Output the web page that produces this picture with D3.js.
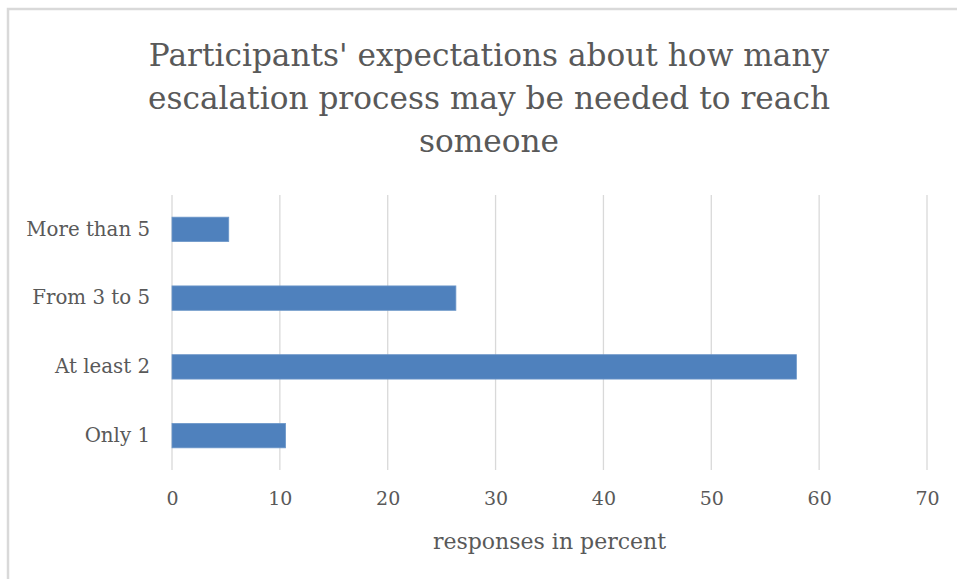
<!DOCTYPE html>
<html>
<head>
<meta charset="utf-8">
<script src="https://cdn.jsdelivr.net/npm/d3@7"></script>
<style>
  html, body { margin: 0; padding: 0; background: #ffffff; }
  svg { display: block; }
  text { font-family: "DejaVu Serif", "Liberation Serif", serif; fill: #595959; }
</style>
</head>
<body>
<svg id="chart" width="957" height="579"></svg>
<script>
// Share of participants expecting a given number of escalation steps (n = 19)
const categories = ["Only 1", "At least 2", "From 3 to 5", "More than 5"];
const percents = [10.53, 57.89, 26.32, 5.26];
const xTicks = [0, 10, 20, 30, 40, 50, 60, 70];
const titleLines = [
  "Participants' expectations about how many",
  "escalation process may be needed to reach",
  "someone"
];
const xAxisTitle = "responses in percent";

const svg = d3.select("#chart");
const W = 957, H = 579;

// chart frame (right and bottom edges fall outside the view)
svg.append("rect")
  .attr("x", 8).attr("y", 9)
  .attr("width", W + 20).attr("height", H + 20)
  .attr("fill", "#ffffff")
  .attr("stroke", "#d9d9d9")
  .attr("stroke-width", 2.5);

const plot = { left: 172, right: 927, top: 195, bottom: 470 };

const x = d3.scaleLinear().domain([0, 70]).range([plot.left, plot.right]);
const y = d3.scaleBand()
  .domain(categories.slice().reverse())
  .range([plot.top, plot.bottom])
  .paddingInner(0.645)
  .paddingOuter(0.3225);

// vertical gridlines
svg.append("g")
  .selectAll("line")
  .data(xTicks)
  .join("line")
  .attr("x1", d => x(d)).attr("x2", d => x(d))
  .attr("y1", plot.top).attr("y2", plot.bottom)
  .attr("stroke", "#d9d9d9")
  .attr("stroke-width", 1.3);

// bars
svg.append("g")
  .selectAll("rect")
  .data(categories.map((c, i) => ({ c, v: percents[i] })))
  .join("rect")
  .attr("x", x(0))
  .attr("y", d => y(d.c))
  .attr("width", d => x(d.v) - x(0))
  .attr("height", y.bandwidth())
  .attr("fill", "#4f81bd")
  .attr("stroke", "#6d97c9")
  .attr("stroke-width", 0.8);

// x axis tick labels
const xAxis = d3.axisBottom(x).tickValues(xTicks).tickSize(0).tickPadding(0);
const gx = svg.append("g")
  .attr("transform", `translate(0,${plot.bottom})`)
  .call(xAxis);
gx.select(".domain").remove();
gx.selectAll(".tick text")
  .attr("y", 28)
  .attr("dy", "0.35em")
  .style("font-family", '"DejaVu Serif", serif')
  .style("font-size", "19px")
  .attr("fill", "#595959");

// y axis category labels
const yAxis = d3.axisLeft(y).tickSize(0).tickPadding(22);
const gy = svg.append("g")
  .attr("transform", `translate(${plot.left},0)`)
  .call(yAxis);
gy.select(".domain").remove();
gy.selectAll(".tick text")
  .style("font-family", '"DejaVu Serif", serif')
  .style("font-size", "19.8px")
  .attr("fill", "#595959");

// chart title
svg.append("g")
  .selectAll("text")
  .data(titleLines)
  .join("text")
  .attr("x", 489)
  .attr("y", (d, i) => 55 + i * 43)
  .attr("dy", "0.35em")
  .attr("text-anchor", "middle")
  .style("font-size", "31.2px")
  .text(d => d);

// x axis title
svg.append("text")
  .attr("x", (plot.left + plot.right) / 2)
  .attr("y", 541)
  .attr("dy", "0.35em")
  .attr("text-anchor", "middle")
  .style("font-size", "22px")
  .text(xAxisTitle);
</script>
</body>
</html>
